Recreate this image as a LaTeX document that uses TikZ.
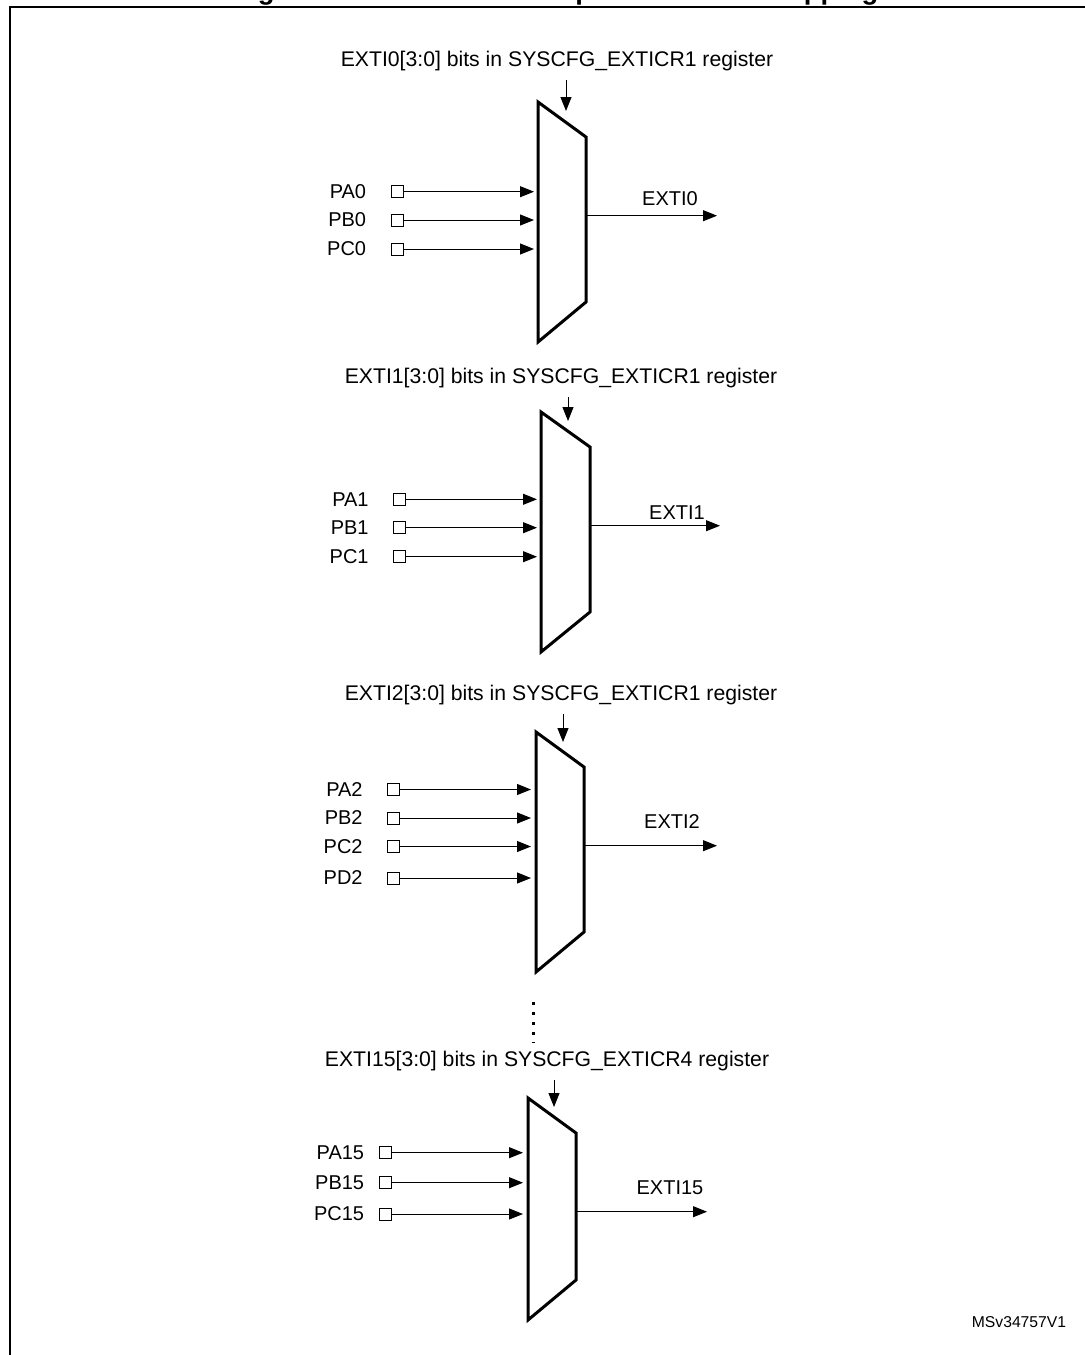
\documentclass[tikz,border=0pt]{standalone}
\usepackage{fontspec}
\setmainfont{Liberation Sans}
\usetikzlibrary{arrows.meta, positioning, calc}

\tikzset{
  mux/.style={line width=1.5pt, line join=miter},
  pin/.style={draw, line width=0.5pt, minimum size=6pt, inner sep=0pt},
  sig/.style={line width=0.5pt, -{Triangle[length=7pt,width=5.5pt]}},
  txt/.style={font=\fontsize{10}{12}\selectfont, inner sep=0pt},
  seltxt/.style={font=\fontsize{10.6}{12}\selectfont, inner sep=0pt, anchor=base},
}

\begin{document}
\begin{tikzpicture}[x=0.5pt, y=-0.5pt]
    \useasboundingbox (0,0) rectangle (1084,1355);

    % Frame and title (cut off by the page)
    \draw[line width=1pt] (10,1360) -- (10,7) -- (1090,7);
    \node[font=\bfseries\fontsize{13.7}{16}\selectfont, inner sep=0pt, anchor=base west] (title) at (233,-1) {Figure 23. External interrupt/event GPIO mapping};

    % EXTI0 multiplexer
    \coordinate (m0) at (538,102);
    \coordinate (m0r) at (586,137);
    \coordinate (m0in) at (534,102);
    \draw[mux] (m0) -- (m0r) -- ++(0,165) -- ++(-48,40) -- cycle;
    \node[seltxt] (sel0) at (557,66) {EXTI0[3:0] bits in SYSCFG\_EXTICR1 register};
    \coordinate (s0) at (566,111);
    \draw[sig] ($(sel0.south -| s0)+(0,9)$) -- (s0);

    \node[pin] (pa0) at (397,191.7) {};
    \node[pin] (pb0) at (397,220) {};
    \node[pin] (pc0) at (397,249) {};
    \node[txt, left=12pt of pa0] (pa0l) {PA0};
    \node[txt, left=12pt of pb0] (pb0l) {PB0};
    \node[txt, left=12pt of pc0] (pc0l) {PC0};
    \draw[sig] (pa0.east) -- (pa0.east -| m0in);
    \draw[sig] (pb0.east) -- (pb0.east -| m0in);
    \draw[sig] (pc0.east) -- (pc0.east -| m0in);

    \coordinate (o0) at (717,215.7);
    \draw[sig] (o0 -| m0r) -- (o0);
    \node[txt, anchor=base] (exti0) at (670,205.7) {EXTI0};

    % EXTI1 multiplexer
    \coordinate (m1) at (541,412);
    \coordinate (m1r) at (590,447);
    \coordinate (m1in) at (537,412);
    \draw[mux] (m1) -- (m1r) -- ++(0,165) -- ++(-49,40) -- cycle;
    \node[seltxt] (sel1) at (561,383) {EXTI1[3:0] bits in SYSCFG\_EXTICR1 register};
    \coordinate (s1) at (568,421);
    \draw[sig] ($(sel1.south -| s1)+(0,9)$) -- (s1);

    \node[pin] (pa1) at (399.5,499.3) {};
    \node[pin] (pb1) at (399.5,527.7) {};
    \node[pin] (pc1) at (399.5,556.7) {};
    \node[txt, left=12pt of pa1] (pa1l) {PA1};
    \node[txt, left=12pt of pb1] (pb1l) {PB1};
    \node[txt, left=12pt of pc1] (pc1l) {PC1};
    \draw[sig] (pa1.east) -- (pa1.east -| m1in);
    \draw[sig] (pb1.east) -- (pb1.east -| m1in);
    \draw[sig] (pc1.east) -- (pc1.east -| m1in);

    \coordinate (o1) at (720,525.7);
    \draw[sig] (o1 -| m1r) -- (o1);
    \node[txt, anchor=base] (exti1) at (677,519) {EXTI1};

    % EXTI2 multiplexer
    \coordinate (m2) at (536,732);
    \coordinate (m2r) at (584,767);
    \coordinate (m2in) at (531,732);
    \draw[mux] (m2) -- (m2r) -- ++(0,165) -- ++(-48,40) -- cycle;
    \node[seltxt] (sel2) at (561,700) {EXTI2[3:0] bits in SYSCFG\_EXTICR1 register};
    \coordinate (s2) at (563,742);
    \draw[sig] ($(sel2.south -| s2)+(0,9)$) -- (s2);

    \node[pin] (pa2) at (393.5,789.5) {};
    \node[pin] (pb2) at (393.5,818) {};
    \node[pin] (pc2) at (393.5,846.5) {};
    \node[pin] (pd2) at (393.5,878) {};
    \node[txt, left=12pt of pa2] (pa2l) {PA2};
    \node[txt, left=12pt of pb2] (pb2l) {PB2};
    \node[txt, left=12pt of pc2] (pc2l) {PC2};
    \node[txt, left=12pt of pd2] (pd2l) {PD2};
    \draw[sig] (pa2.east) -- (pa2.east -| m2in);
    \draw[sig] (pb2.east) -- (pb2.east -| m2in);
    \draw[sig] (pc2.east) -- (pc2.east -| m2in);
    \draw[sig] (pd2.east) -- (pd2.east -| m2in);

    \coordinate (o2) at (717,845.7);
    \draw[sig] (o2 -| m2r) -- (o2);
    \node[txt, anchor=base] (exti2) at (672,828) {EXTI2};

    % dots for the lines not shown
    \draw[line width=1.5pt, dash pattern=on 1.5pt off 3.5pt] (533,1002) -- (533,1043);

    % EXTI15 multiplexer
    \coordinate (m15) at (528,1098);
    \coordinate (m15r) at (576,1133);
    \coordinate (m15in) at (523,1098);
    \draw[mux] (m15) -- (m15r) -- ++(0,147) -- ++(-48,40) -- cycle;
    \node[seltxt] (sel15) at (547,1066) {EXTI15[3:0] bits in SYSCFG\_EXTICR4 register};
    \coordinate (s15) at (554,1107);
    \draw[sig] ($(sel15.south -| s15)+(0,9)$) -- (s15);

    \node[pin] (pa15) at (385,1152.7) {};
    \node[pin] (pb15) at (385,1182.7) {};
    \node[pin] (pc15) at (385,1214) {};
    \node[txt, left=7pt of pa15] (pa15l) {PA15};
    \node[txt, left=7pt of pb15] (pb15l) {PB15};
    \node[txt, left=7pt of pc15] (pc15l) {PC15};
    \draw[sig] (pa15.east) -- (pa15.east -| m15in);
    \draw[sig] (pb15.east) -- (pb15.east -| m15in);
    \draw[sig] (pc15.east) -- (pc15.east -| m15in);

    \coordinate (o15) at (707,1211.7);
    \draw[sig] (o15 -| m15r) -- (o15);
    \node[txt, anchor=base] (exti15) at (670,1194) {EXTI15};

    % Figure reference
    \node[font=\fontsize{7.85}{9}\selectfont, inner sep=0pt] (msv) at (1019,1322) {MSv34757V1};
\end{tikzpicture}
\end{document}
